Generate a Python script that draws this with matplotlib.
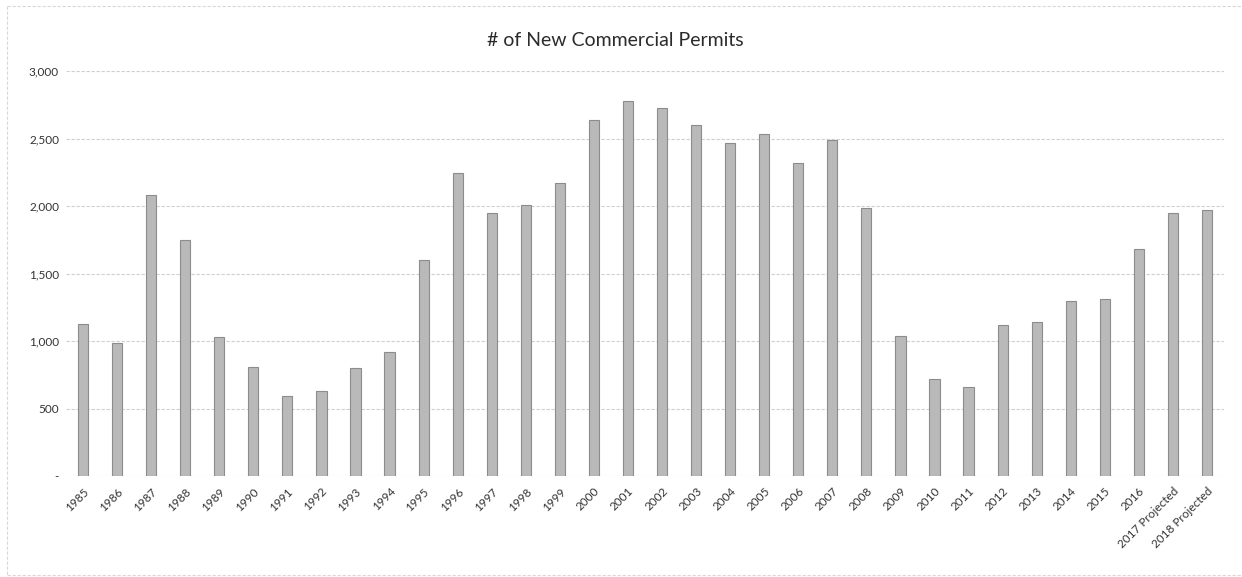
import matplotlib
matplotlib.use("Agg")
import matplotlib.pyplot as plt
from matplotlib.ticker import FuncFormatter
from matplotlib.lines import Line2D

categories = [str(y) for y in range(1985, 2017)] + ["2017 Projected", "2018 Projected"]
permits = [1123, 988, 2079, 1746, 1032, 810, 593, 627, 798, 919,
           1603, 2245, 1946, 2010, 2168, 2635, 2778, 2726, 2598, 2469,
           2531, 2319, 2491, 1983, 1035, 721, 657, 1121, 1138, 1294,
           1314, 1684, 1946, 1973]
yticks = [0, 500, 1000, 1500, 2000, 2500, 3000]
title = "# of New Commercial Permits"

plt.rcParams['font.family'] = ['Lato', 'DejaVu Sans']

W, H = 1242, 577
fig = plt.figure(figsize=(W / 100, H / 100), dpi=100)
ax = fig.add_axes([66 / W, 1 - 476 / H, (1224 - 66) / W, (476 - 71) / H])

x = list(range(len(categories)))
ax.bar(x, permits, width=0.3, color='#b9b9b9', edgecolor='#8c8c8c', linewidth=0.8, zorder=3)

ax.set_xlim(-0.5, len(categories) - 0.5)
ax.set_ylim(0, 3000)
ax.set_yticks(yticks)
ax.yaxis.set_major_formatter(FuncFormatter(lambda v, p: '-' if v == 0 else f"{int(v):,}"))
ax.grid(axis='y', color='#cfcfcf', linestyle=(0, (3, 1.5)), linewidth=0.8, zorder=0)
ax.set_xticks(x)
ax.set_xticklabels(categories, rotation=45, ha='right', rotation_mode='anchor',
                   fontsize=8.5, color='#333333')
ax.tick_params(axis='both', length=0)
ax.tick_params(axis='x', pad=7)
ax.tick_params(axis='y', labelsize=8.5, labelcolor='#333333', pad=5)
for s in ax.spines.values():
    s.set_visible(False)

fig.text(615 / W, 1 - 41 / H, title, ha='center', va='center', fontsize=14, color='#2b2b2b')

# chart border (top, left, bottom)
for (xs, ys) in [((7 / W, 1.0), (1 - 6 / H, 1 - 6 / H)),
                 ((7 / W, 7 / W), (1 - 6 / H, 1 - 575 / H)),
                 ((7 / W, 1.0), (1 - 575 / H, 1 - 575 / H))]:
    fig.add_artist(Line2D(xs, ys, transform=fig.transFigure, color='#d8d8d8',
                          linewidth=0.8, linestyle=(0, (3, 1.5))))

fig.savefig("out.png", dpi=100)
